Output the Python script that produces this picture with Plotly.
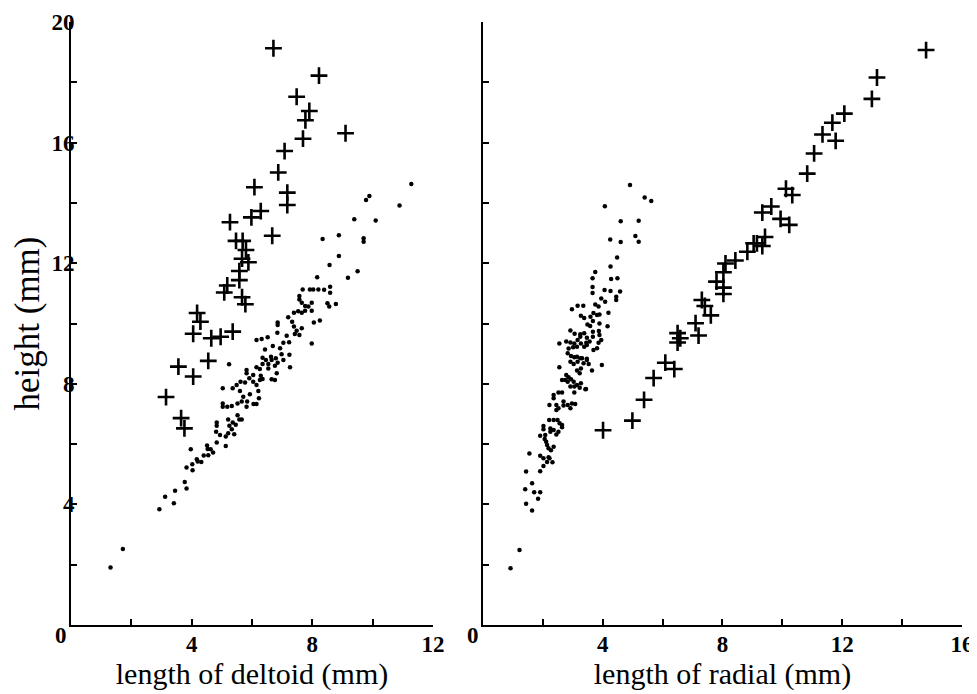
import plotly.graph_objects as go

# (deltoid length, height) for the small dots
left_dots = [
    (1.31, 1.91), (1.72, 2.52), (2.93, 3.84), (3.12, 4.25), (3.41, 4.04), (3.45, 4.45),
    (3.83, 4.53), (3.77, 4.74), (3.83, 5.22), (4.02, 5.33), (4.03, 5.13), (3.97, 5.83),
    (4.17, 5.50), (4.20, 5.42), (4.32, 5.41), (4.40, 5.62), (4.51, 5.95), (4.53, 5.84),
    (4.55, 5.63), (4.63, 5.83), (4.71, 5.72), (4.83, 6.05), (5.13, 5.94), (4.81, 6.41),
    (4.94, 6.30), (4.83, 6.72), (4.83, 6.61), (5.13, 6.25), (5.21, 6.36), (5.33, 6.49),
    (5.41, 6.33), (5.25, 6.61), (5.36, 6.72), (5.46, 6.64), (5.21, 6.82), (5.58, 6.82),
    (5.66, 6.82), (5.52, 6.96), (5.03, 7.35), (5.03, 7.24), (5.18, 7.24), (5.33, 7.26),
    (5.03, 7.85), (5.24, 8.65), (5.36, 7.85), (5.49, 7.96), (5.62, 8.07), (5.77, 8.04),
    (5.52, 7.35), (5.66, 7.41), (5.82, 7.24), (5.84, 7.41), (5.60, 7.76), (5.93, 7.65),
    (5.71, 7.57), (5.82, 8.46), (5.82, 8.35), (5.91, 8.18), (6.04, 8.29), (6.04, 8.07),
    (6.15, 7.96), (6.05, 7.33), (6.15, 7.33), (6.23, 7.52), (6.21, 7.76), (6.15, 8.55),
    (6.26, 8.49), (6.35, 8.66), (6.29, 8.27), (6.35, 8.16), (6.26, 8.13), (6.15, 9.45),
    (6.32, 9.49), (6.52, 9.54), (6.43, 9.14), (6.35, 8.86), (6.46, 8.79), (6.54, 8.66),
    (6.65, 8.79), (6.54, 8.51), (6.69, 9.25), (6.63, 8.90), (6.79, 8.85), (6.76, 8.60),
    (6.85, 8.70), (6.65, 8.15), (6.82, 8.35), (6.76, 8.13), (6.85, 10.03), (6.85, 9.95),
    (6.84, 9.69), (6.93, 9.18), (6.98, 8.98), (7.04, 9.36), (7.15, 9.59), (7.23, 9.38),
    (7.24, 8.96), (7.26, 8.55), (7.04, 8.79), (7.20, 10.21), (7.33, 10.06), (7.39, 9.90),
    (7.48, 9.76), (7.39, 10.36), (7.53, 10.41), (7.65, 10.36), (7.57, 9.62), (7.65, 9.84),
    (7.42, 9.65), (7.57, 10.91), (7.57, 10.80), (7.68, 11.13), (7.65, 10.69), (7.76, 10.58),
    (7.76, 10.42), (7.87, 10.56), (7.92, 11.13), (8.03, 11.13), (7.98, 10.42), (7.98, 10.69),
    (8.05, 10.03), (7.98, 9.34), (8.16, 11.53), (8.25, 10.10), (11.28, 14.63), (9.89, 14.23),
    (9.78, 14.10), (10.89, 13.91), (9.39, 13.46), (10.10, 13.42), (8.34, 12.80), (8.88, 12.93),
    (9.70, 12.83), (9.70, 12.71), (8.88, 12.24), (8.57, 11.94), (9.50, 11.73), (9.18, 11.52),
    (8.20, 11.13), (8.39, 11.12), (8.59, 11.22), (8.59, 11.02), (8.50, 10.67), (8.56, 10.56),
    (8.78, 10.65),
]

# (radial length, height) for the small dots
right_dots = [
    (0.92, 1.88), (1.22, 2.49), (1.64, 3.80), (1.44, 4.02), (1.84, 4.19), (1.71, 4.40),
    (1.91, 4.40), (1.41, 4.50), (1.64, 4.70), (1.44, 5.09), (1.91, 5.10), (2.02, 5.27),
    (1.55, 5.69), (1.91, 5.61), (2.02, 5.53), (2.14, 5.41), (2.22, 5.53), (2.32, 5.40),
    (2.19, 5.56), (2.14, 5.97), (2.19, 5.86), (2.27, 5.80), (2.36, 5.91), (2.11, 6.08),
    (1.91, 6.28), (2.08, 6.30), (2.06, 6.17), (2.02, 6.49), (2.02, 6.60), (2.25, 6.52),
    (2.25, 6.41), (2.45, 6.32), (2.52, 6.41), (2.64, 6.63), (2.64, 6.56), (2.36, 6.47),
    (2.21, 6.80), (2.36, 6.80), (2.49, 6.80), (2.56, 6.69), (2.22, 7.30), (2.36, 7.63),
    (2.36, 7.52), (2.45, 7.30), (2.45, 7.13), (2.52, 7.71), (2.64, 7.71), (2.69, 7.41),
    (2.69, 7.28), (2.83, 7.30), (2.92, 7.19), (2.97, 7.35), (3.08, 7.33), (2.52, 7.19),
    (2.55, 8.55), (2.64, 8.13), (2.78, 8.29), (2.86, 8.22), (2.83, 8.07), (2.94, 8.15),
    (3.03, 8.07), (2.92, 7.91), (3.05, 7.91), (3.14, 7.96), (3.27, 8.02), (3.05, 7.71),
    (3.23, 7.87), (3.42, 7.82), (2.75, 8.13), (2.83, 9.01), (2.94, 8.92), (2.92, 8.73),
    (3.03, 8.66), (3.14, 8.90), (3.16, 8.73), (3.25, 8.85), (3.14, 8.44), (3.23, 8.35),
    (3.27, 8.51), (3.36, 8.68), (3.47, 8.79), (3.53, 8.66), (3.64, 8.44), (3.97, 8.62),
    (3.81, 9.18), (3.69, 9.12), (3.47, 9.29), (3.44, 7.83), (4.91, 14.59), (5.40, 14.18),
    (5.62, 14.06), (4.07, 13.89), (4.60, 13.39), (5.20, 13.41), (4.25, 12.79), (4.60, 12.70),
    (5.09, 12.90), (5.20, 12.71), (4.48, 12.19), (4.26, 11.89), (3.75, 11.71), (3.66, 11.50),
    (4.28, 11.48), (4.49, 11.50), (3.66, 11.21), (3.66, 11.01), (4.06, 11.11), (4.26, 11.08),
    (4.58, 11.06), (4.45, 10.89), (4.45, 10.78), (3.95, 10.83), (4.08, 10.72), (2.97, 10.47),
    (3.16, 10.59), (3.35, 10.59), (3.75, 10.63), (3.86, 10.56), (3.27, 10.26), (3.38, 10.18),
    (3.59, 10.22), (3.69, 10.35), (3.81, 10.28), (3.89, 10.30), (3.67, 10.08), (3.49, 9.97),
    (3.58, 9.92), (3.89, 10.00), (4.19, 10.36), (4.16, 9.91), (2.92, 9.77), (3.06, 9.66),
    (3.25, 9.64), (3.38, 9.68), (3.67, 9.73), (3.87, 9.75), (3.67, 9.56), (3.89, 9.62),
    (3.95, 9.45), (3.86, 9.36), (3.25, 9.56), (3.16, 9.45), (3.47, 9.53), (2.55, 9.34),
    (2.78, 9.40), (2.92, 9.37), (3.05, 9.34), (3.14, 9.23), (3.01, 9.21), (2.86, 9.17),
    (3.27, 9.34), (3.45, 9.36), (3.56, 9.40), (3.38, 9.23), (3.05, 8.88), (3.31, 8.85),
    (3.47, 8.83),
]

# crosses
left_cross_x = [6.71, 8.22, 7.48, 7.90, 7.77, 9.10, 7.69, 7.08, 6.87, 6.08, 7.17, 7.17, 6.29,
                5.98, 5.27, 6.67, 5.47, 5.69, 5.80, 5.67, 5.88, 5.58, 5.58, 5.18, 5.08, 5.67,
                5.78, 4.18, 4.29, 4.05, 4.96, 4.65, 5.36, 4.55, 3.56, 4.05, 3.15, 3.65, 3.76]
left_cross_y = [19.13, 18.22, 17.52, 17.05, 16.74, 16.31, 16.13, 15.72, 15.01, 14.52, 14.34,
                13.93, 13.73, 13.52, 13.36, 12.91, 12.74, 12.74, 12.44, 12.15, 12.03, 11.74,
                11.44, 11.26, 11.03, 10.87, 10.64, 10.35, 10.06, 9.66, 9.56, 9.51, 9.73, 8.76,
                8.57, 8.24, 7.56, 6.86, 6.52]
right_cross_x = [14.80, 13.16, 12.99, 12.07, 11.67, 11.34, 11.78, 11.06, 10.83, 10.12, 10.33,
                 9.63, 9.33, 9.94, 10.23, 9.42, 9.04, 9.15, 9.33, 8.83, 8.43, 8.10, 8.03, 7.80,
                 8.03, 8.03, 7.31, 7.41, 7.61, 7.10, 6.50, 6.59, 7.20, 6.50, 6.09, 6.39, 5.70,
                 5.38, 4.99, 4.01]
right_cross_y = [19.07, 18.16, 17.45, 16.96, 16.66, 16.27, 16.06, 15.64, 14.97, 14.47, 14.26,
                 13.88, 13.68, 13.47, 13.27, 12.87, 12.66, 12.66, 12.57, 12.38, 12.09, 11.99,
                 11.70, 11.39, 11.19, 10.98, 10.78, 10.58, 10.27, 10.01, 9.68, 9.51, 9.60, 9.37,
                 8.70, 8.49, 8.19, 7.47, 6.78, 6.46]

y_ticks = [2, 4, 6, 8, 10, 12, 14, 16, 18, 20]
y_labels = ["", "4", "", "8", "", "12", "", "16", "", "20"]
left_x_ticks = [2, 4, 6, 8, 10, 12]
left_x_labels = ["", "4", "", "8", "", "12"]
right_x_ticks = [2, 4, 6, 8, 10, 12, 14, 16]
right_x_labels = ["", "4", "", "8", "", "12", "", "16"]

serif = "Liberation Serif"
dot = dict(size=4.5, color="black")
cross = dict(symbol="cross-thin", size=12, line=dict(width=2.6, color="black"))
tick_font = dict(family=serif, size=23, color="black", weight="bold")
title_font = dict(family=serif, size=30, color="black")

fig = go.Figure()
fig.add_trace(go.Scatter(x=[p[0] for p in left_dots], y=[p[1] for p in left_dots],
                         mode="markers", marker=dot, xaxis="x", yaxis="y"))
fig.add_trace(go.Scatter(x=left_cross_x, y=left_cross_y, mode="markers", marker=cross,
                         xaxis="x", yaxis="y"))
fig.add_trace(go.Scatter(x=[p[0] for p in right_dots], y=[p[1] for p in right_dots],
                         mode="markers", marker=dot, xaxis="x2", yaxis="y2"))
fig.add_trace(go.Scatter(x=right_cross_x, y=right_cross_y, mode="markers", marker=cross,
                         xaxis="x2", yaxis="y2"))

axis_common = dict(showgrid=False, zeroline=False, showline=True, linecolor="black",
                   linewidth=2, ticks="inside", ticklen=6, tickwidth=2, tickcolor="black",
                   tickfont=tick_font, automargin=False)

# page body adds an 8px offset, so margins are shifted to compensate
fig.update_layout(
    width=977, height=686,
    margin=dict(l=63, r=23, t=14, b=69),
    plot_bgcolor="white", paper_bgcolor="white",
    showlegend=False,
    xaxis=dict(domain=[0, 0.4063], range=[0, 12], tickvals=left_x_ticks,
               ticktext=left_x_labels, anchor="y", ticklabelstandoff=-3,
               title=dict(text="length of deltoid (mm)", standoff=0, font=title_font),
               **axis_common),
    yaxis=dict(domain=[0, 1], range=[0, 20], tickvals=y_ticks, ticktext=y_labels,
               anchor="x", ticklabelstandoff=-10,
               title=dict(text="height (mm)", standoff=2,
                          font=dict(family=serif, size=35, color="black")),
               **axis_common),
    xaxis2=dict(domain=[0.4624, 1], range=[0, 16], tickvals=right_x_ticks,
                ticktext=right_x_labels, anchor="y2", ticklabelstandoff=-3,
                title=dict(text="length of radial (mm)", standoff=0, font=title_font),
                **axis_common),
    yaxis2=dict(domain=[0, 1], range=[0, 20], tickvals=y_ticks, showticklabels=False,
                anchor="x2", **axis_common),
)

# the single "0" at each origin sits below-left of the corner
for xr, yr in (("x", "y"), ("x2", "y2")):
    fig.add_annotation(x=0, y=0, xref=xr, yref=yr, text="0", showarrow=False,
                       xanchor="center", yanchor="middle", xshift=-10, yshift=-10,
                       font=tick_font)

fig.write_html("out.html")
